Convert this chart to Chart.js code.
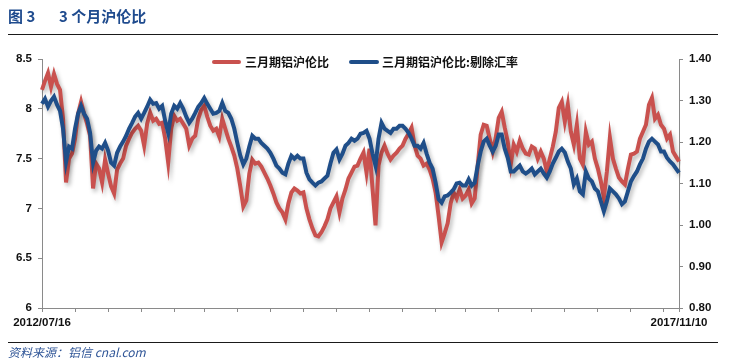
<!DOCTYPE html>
<html>
<head>
<meta charset="utf-8">
<script src="https://cdn.jsdelivr.net/npm/chart.js@4.4.1/dist/chart.umd.min.js"></script>
<style>
  body { margin: 0; background: #fff; font-family: "Noto Sans CJK SC", sans-serif; }
  #page { position: relative; width: 736px; height: 363px; overflow: hidden; }
  #chart { position: absolute; left: 0; top: 0; }
  .title { position: absolute; top: 7px; font-size: 15px; font-weight: bold; color: #1f4b8e; line-height: 18px; white-space: nowrap; }
  .rule { position: absolute; left: 8px; width: 710px; height: 1px; background: #1a1a1a; }
  .lg-line { position: absolute; height: 4px; border-radius: 2px; }
  .lg-text { position: absolute; top: 53px; font-size: 12px; font-weight: bold; line-height: 17px; color: #111; white-space: nowrap; }
  .source { position: absolute; left: 8px; top: 343px; font-size: 12px; font-style: italic; color: #2f5597; line-height: 17px; white-space: nowrap; }
</style>
</head>
<body>
<div id="page">
  <canvas id="chart" width="736" height="363"></canvas>
  <div class="title" style="left:8px">图 3</div>
  <div class="title" style="left:59px">3 个月沪伦比</div>
  <div class="rule" style="top:34px"></div>
  <div class="lg-line" style="left:212px;width:29px;top:60px;background:#c9514e"></div>
  <div class="lg-text" style="left:245px">三月期铝沪伦比</div>
  <div class="lg-line" style="left:349px;width:30px;top:60px;background:#1f4e89"></div>
  <div class="lg-text" style="left:382px">三月期铝沪伦比:剔除汇率</div>
  <div class="rule" style="top:342px"></div>
  <div class="source">资料来源：铝信 cnal.com</div>
</div>
<script>
// 三月期铝沪伦比 (left axis)
const shfeLme = [
  8.19, 8.28, 8.36, 8.22, 8.35, 8.25, 8.19, 7.90, 7.26, 7.50,
  7.55, 7.70, 7.95, 8.07, 7.95, 7.85, 7.73, 7.20, 7.45, 7.40,
  7.26, 7.49, 7.35, 7.22, 7.15, 7.39, 7.45, 7.50, 7.63, 7.70,
  7.76, 7.80, 7.83, 7.78, 7.63, 7.85, 7.96, 7.88, 7.90, 7.85,
  7.86, 7.70, 7.46, 7.80, 7.93, 7.88, 7.90, 7.85, 7.80, 7.63,
  7.70, 7.73, 7.90, 7.99, 8.03, 7.92, 7.83, 7.78, 7.80, 7.72,
  7.90, 7.80, 7.70, 7.62, 7.53, 7.40, 7.22, 7.02, 7.08, 7.35,
  7.49, 7.45, 7.46, 7.42, 7.36, 7.30, 7.23, 7.15, 7.06, 7.00,
  6.96, 6.89, 7.05, 7.16, 7.20, 7.18, 7.15, 7.16, 7.00, 6.89,
  6.80, 6.73, 6.72, 6.76, 6.82, 6.89, 7.00, 7.06, 7.12, 6.96,
  7.10, 7.19, 7.30, 7.36, 7.42, 7.43, 7.50, 7.56, 7.36, 7.60,
  7.20, 6.83, 7.43, 7.56, 7.63, 7.55, 7.49, 7.53, 7.56, 7.60,
  7.63, 7.70, 7.75, 7.81, 7.63, 7.53, 7.50, 7.43, 7.45, 7.39,
  7.30, 7.16, 6.92, 6.66, 6.75, 6.85, 7.05, 7.16, 7.10, 7.19,
  7.10, 7.13, 7.19, 7.05, 7.10, 7.43, 7.74, 7.84, 7.83, 7.70,
  7.57, 7.71, 7.91, 7.97, 7.81, 7.67, 7.44, 7.64, 7.57, 7.68,
  7.60, 7.55, 7.54, 7.62, 7.60, 7.50, 7.57, 7.50, 7.37, 7.50,
  7.62, 7.77, 8.01, 8.07, 7.87, 8.04, 7.77, 7.64, 7.84, 7.50,
  7.44, 7.77, 7.64, 7.67, 7.50, 7.40, 7.27, 7.11, 7.37, 7.71,
  7.50, 7.40, 7.31, 7.27, 7.24, 7.40, 7.54, 7.55, 7.57, 7.70,
  7.77, 7.84, 8.04, 8.11, 7.90, 7.94, 7.84, 7.80, 7.70, 7.74,
  7.57, 7.52, 7.47
];

// 三月期铝沪伦比:剔除汇率 (right axis)
const shfeLmeExFx = [
  1.292, 1.304, 1.285, 1.299, 1.309, 1.290, 1.275, 1.232, 1.152, 1.189,
  1.184, 1.232, 1.268, 1.287, 1.268, 1.256, 1.222, 1.150, 1.179, 1.189,
  1.184, 1.198, 1.179, 1.150, 1.143, 1.174, 1.189, 1.201, 1.215, 1.232,
  1.246, 1.261, 1.270, 1.256, 1.270, 1.285, 1.302, 1.292, 1.294, 1.280,
  1.287, 1.251, 1.222, 1.268, 1.287, 1.280, 1.294, 1.280, 1.261, 1.246,
  1.256, 1.270, 1.285, 1.294, 1.306, 1.292, 1.280, 1.268, 1.270, 1.275,
  1.294, 1.275, 1.270, 1.256, 1.232, 1.198, 1.167, 1.146, 1.160, 1.189,
  1.215, 1.208, 1.208, 1.198, 1.191, 1.184, 1.174, 1.160, 1.143, 1.136,
  1.126, 1.122, 1.148, 1.167, 1.160, 1.167, 1.160, 1.160, 1.126, 1.110,
  1.102, 1.095, 1.102, 1.105, 1.112, 1.119, 1.148, 1.174, 1.182, 1.158,
  1.172, 1.191, 1.198, 1.208, 1.203, 1.208, 1.220, 1.222, 1.227, 1.208,
  1.172, 1.143, 1.208, 1.246, 1.232, 1.227, 1.222, 1.232, 1.232, 1.239,
  1.239, 1.232, 1.222, 1.208, 1.191, 1.191, 1.184, 1.198, 1.172, 1.150,
  1.136, 1.102, 1.062, 1.054, 1.069, 1.071, 1.078, 1.086, 1.100, 1.102,
  1.095, 1.095, 1.110, 1.095, 1.102, 1.143, 1.177, 1.201, 1.208, 1.191,
  1.177, 1.191, 1.218, 1.218, 1.184, 1.162, 1.129, 1.129, 1.136, 1.143,
  1.129, 1.124, 1.129, 1.136, 1.122, 1.129, 1.136, 1.124, 1.114, 1.129,
  1.148, 1.162, 1.177, 1.184, 1.175, 1.153, 1.136, 1.098, 1.112, 1.081,
  1.074, 1.129, 1.112, 1.105, 1.088, 1.081, 1.057, 1.033, 1.057, 1.088,
  1.081, 1.074, 1.064, 1.050, 1.057, 1.081, 1.105, 1.118, 1.129, 1.146,
  1.160, 1.184, 1.201, 1.208, 1.201, 1.194, 1.177, 1.177, 1.162, 1.153,
  1.146, 1.136, 1.126
];

const leftTicks = [6, 6.5, 7, 7.5, 8, 8.5];
const rightTicks = [0.8, 0.9, 1.0, 1.1, 1.2, 1.3, 1.4];
const firstDate = '2012/07/16';
const lastDate = '2017/11/10';

// dates spread evenly between the two end labels
function parseDate(s) {
    const p = s.split('/');
    return Date.UTC(+p[0], +p[1] - 1, +p[2]);
}
function fmtDate(t) {
    const d = new Date(t);
    const mm = String(d.getUTCMonth() + 1).padStart(2, '0');
    const dd = String(d.getUTCDate()).padStart(2, '0');
    return d.getUTCFullYear() + '/' + mm + '/' + dd;
}
const t0 = parseDate(firstDate), t1 = parseDate(lastDate);
const n = shfeLme.length;
const dates = shfeLme.map((_, i) => fmtDate(t0 + Math.round((t1 - t0) / 86400000 * i / (n - 1)) * 86400000));

const tickEvery = 10.88; // x tick marks spacing, in points

const shadowPlugin = {
    id: 'lineShadow',
    beforeDatasetDraw(chart) {
        const ctx = chart.ctx;
        ctx.save();
        ctx.shadowColor = 'rgba(0,0,0,0.28)';
        ctx.shadowBlur = 4;
        ctx.shadowOffsetX = 2;
        ctx.shadowOffsetY = 3;
    },
    afterDatasetDraw(chart) {
        chart.ctx.restore();
    }
};

const tickFont = { family: 'Liberation Sans, Arial, sans-serif', size: 11.5, weight: 'bold' };
const axisColor = '#8a8a8a';

new Chart(document.getElementById('chart'), {
    type: 'line',
    data: {
        labels: dates,
        datasets: [{
            label: '三月期铝沪伦比',
            data: shfeLme,
            yAxisID: 'yL',
            borderColor: '#c9514e',
            borderWidth: 4,
            pointRadius: 0,
            tension: 0,
            order: 2
        }, {
            label: '三月期铝沪伦比:剔除汇率',
            data: shfeLmeExFx,
            yAxisID: 'yR',
            borderColor: '#1f4e89',
            borderWidth: 4,
            pointRadius: 0,
            tension: 0,
            order: 1
        }]
    },
    options: {
        responsive: false,
        animation: false,
        layout: { padding: { top: 59, left: 0, right: 0, bottom: 0 } },
        plugins: {
            legend: { display: false },
            tooltip: { enabled: false }
        },
        scales: {
            x: {
                type: 'category',
                offset: false,
                grid: { drawOnChartArea: false, drawTicks: true, tickLength: 4, color: axisColor },
                border: { color: axisColor, width: 1 },
                ticks: {
                    autoSkip: false,
                    maxRotation: 0,
                    padding: 4,
                    color: '#111',
                    font: tickFont,
                    callback: function (value) {
                        return (value === 0 || value === n - 1) ? this.getLabelForValue(value) : '';
                    }
                },
                afterBuildTicks: (scale) => {
                    const t = [];
                    for (let k = 0; k * tickEvery < n - 3; k++) t.push({ value: Math.round(k * tickEvery) });
                    t.push({ value: n - 1 });
                    scale.ticks = t;
                },
                afterFit: (scale) => { scale.height = 55; }
            },
            yL: {
                position: 'left',
                min: 6,
                max: 8.5,
                grid: { drawOnChartArea: false, tickLength: 4, color: axisColor },
                border: { color: axisColor, width: 1 },
                ticks: {
                    padding: 6,
                    color: '#111',
                    font: tickFont,
                    callback: (v) => String(Number(v))
                },
                afterBuildTicks: (scale) => { scale.ticks = leftTicks.map(v => ({ value: v })); },
                afterFit: (scale) => { scale.width = 42; }
            },
            yR: {
                position: 'right',
                min: 0.8,
                max: 1.4,
                grid: { drawOnChartArea: false, tickLength: 4, color: axisColor },
                border: { color: axisColor, width: 1 },
                ticks: {
                    padding: 6,
                    color: '#111',
                    font: tickFont,
                    callback: (v) => Number(v).toFixed(2)
                },
                afterBuildTicks: (scale) => { scale.ticks = rightTicks.map(v => ({ value: v })); },
                afterFit: (scale) => { scale.width = 57; }
            }
        }
    },
    plugins: [shadowPlugin]
});
</script>
</body>
</html>
